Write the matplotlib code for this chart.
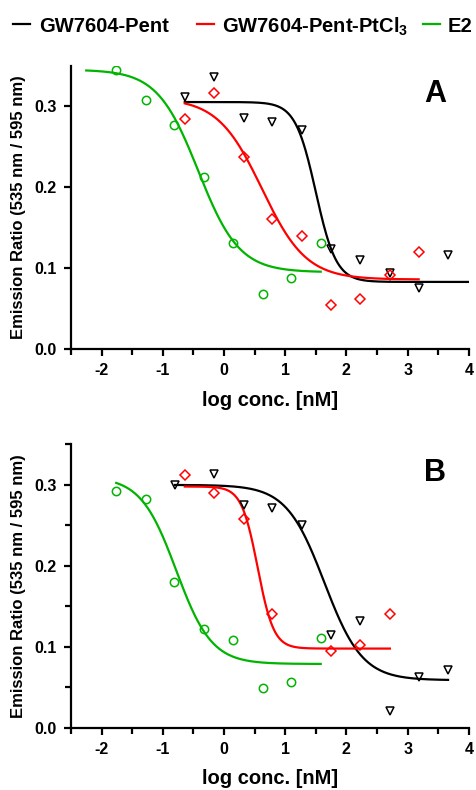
import matplotlib
matplotlib.use("Agg")
import matplotlib.pyplot as plt
import matplotlib.ticker as mticker
from matplotlib.lines import Line2D
import numpy as np

plt.rcParams.update({
    "font.family": "Liberation Sans",
    "font.weight": "bold",
    "mathtext.fontset": "custom",
    "mathtext.rm": "Liberation Sans:bold",
    "mathtext.it": "Liberation Sans:bold",
    "mathtext.bf": "Liberation Sans:bold",
})

GREEN = "#00B400"
RED = "#FF0000"
BLACK = "#000000"

labels = ["GW7604-Pent", "GW7604-Pent-PtCl$_3$", "E2"]

# Panel A measured points (log conc. [nM], emission ratio)
a_pent_x = [-0.64, -0.16, 0.32, 0.79, 1.27, 1.75, 2.23, 2.71, 3.18, 3.66]
a_pent_y = [0.311, 0.336, 0.285, 0.280, 0.270, 0.124, 0.110, 0.094, 0.075, 0.116]
a_pt_x = [-0.64, -0.16, 0.32, 0.79, 1.27, 1.75, 2.23, 2.71, 3.18]
a_pt_y = [0.284, 0.316, 0.237, 0.161, 0.140, 0.054, 0.062, 0.092, 0.120]
a_e2_x = [-1.77, -1.28, -0.81, -0.33, 0.15, 0.63, 1.10, 1.58]
a_e2_y = [0.345, 0.307, 0.277, 0.212, 0.131, 0.068, 0.088, 0.131]

# Panel B measured points
b_pent_x = [-0.80, -0.16, 0.32, 0.79, 1.27, 1.75, 2.23, 2.71, 3.18, 3.66]
b_pent_y = [0.300, 0.313, 0.275, 0.272, 0.250, 0.115, 0.132, 0.021, 0.063, 0.072]
b_pt_x = [-0.64, -0.16, 0.32, 0.79, 1.75, 2.23, 2.71]
b_pt_y = [0.312, 0.290, 0.258, 0.141, 0.095, 0.102, 0.141]
b_e2_x = [-1.76, -1.28, -0.81, -0.33, 0.15, 0.63, 1.10, 1.58]
b_e2_y = [0.293, 0.282, 0.180, 0.122, 0.109, 0.049, 0.057, 0.111]

# fitted 4PL curves: top, bottom, logEC50, hill, x start, x end
a_pent_fit = [0.305, 0.083, 1.50, 2.6, -0.64, 4.0]
a_pt_fit = [0.310, 0.086, 0.62, 1.2, -0.64, 3.18]
a_e2_fit = [0.345, 0.095, -0.42, 1.3, -2.25, 1.58]
b_pent_fit = [0.300, 0.059, 1.64, 1.4, -0.80, 3.66]
b_pt_fit = [0.298, 0.098, 0.55, 3.3, -0.64, 2.71]
b_e2_fit = [0.310, 0.079, -0.78, 1.5, -1.76, 1.58]


def four_pl(fit):
    top, bottom, ec50, hill, x0, x1 = fit
    x = np.linspace(x0, x1, 300)
    return x, bottom + (top - bottom) / (1 + 10 ** ((x - ec50) * hill))


def draw_panel(ax, series, letter, minor_y):
    for (px, py, fit), color, marker in zip(series, [BLACK, RED, GREEN], ["v", "D", "o"]):
        cx, cy = four_pl(fit)
        ax.plot(cx, cy, color=color, linewidth=1.6, zorder=2)
        ms = 5.0 if marker == "D" else 6.0
        ax.plot(px, py, linestyle="none", marker=marker, markersize=ms,
                markerfacecolor="none", markeredgecolor=color, markeredgewidth=1.1, zorder=3)

    ax.set_xlim(-2.5, 4)
    ax.set_ylim(0, 0.35)
    ax.xaxis.set_major_locator(mticker.MultipleLocator(1))
    ax.xaxis.set_minor_locator(mticker.MultipleLocator(0.5))
    ax.yaxis.set_major_locator(mticker.MultipleLocator(0.1))
    if minor_y:
        ax.yaxis.set_minor_locator(mticker.MultipleLocator(0.05))
    else:
        ax.yaxis.set_minor_locator(mticker.NullLocator())
    ax.yaxis.set_major_formatter(mticker.FormatStrFormatter("%.1f"))
    ax.xaxis.set_major_formatter(mticker.FuncFormatter(lambda v, p: f"{v:.0f}"))

    for s in ["top", "right"]:
        ax.spines[s].set_visible(False)
    for s in ["left", "bottom"]:
        ax.spines[s].set_linewidth(1.6)
    ax.tick_params(which="major", length=5, width=1.6, labelsize=11.5, pad=5)
    ax.tick_params(which="minor", length=4, width=1.6)

    ax.set_xlabel("log conc. [nM]", fontsize=14.5, fontweight="bold", labelpad=9)
    ax.set_ylabel("Emission Ratio (535 nm / 595 nm)", fontsize=12, fontweight="bold", labelpad=6)
    ax.text(0.915, 0.90, letter, transform=ax.transAxes, fontsize=22,
            fontweight="bold", ha="center", va="center")


fig = plt.figure(figsize=(4.76, 7.90), dpi=100)
ax_a = fig.add_axes([0.149, 0.558, 0.836, 0.359])
ax_b = fig.add_axes([0.149, 0.0785, 0.836, 0.359])

draw_panel(ax_a, [(a_pent_x, a_pent_y, a_pent_fit),
                  (a_pt_x, a_pt_y, a_pt_fit),
                  (a_e2_x, a_e2_y, a_e2_fit)], "A", False)
draw_panel(ax_b, [(b_pent_x, b_pent_y, b_pent_fit),
                  (b_pt_x, b_pt_y, b_pt_fit),
                  (b_e2_x, b_e2_y, b_e2_fit)], "B", True)

# legend row along the top (pixel positions of handle start / text start)
W, H = 476, 790
leg_y = 1 - 24 / H
for (h0, t0), color, lab in zip([(13, 39), (197, 222), (423, 448)], [BLACK, RED, GREEN], labels):
    fig.add_artist(Line2D([h0 / W, (h0 + 17) / W], [leg_y, leg_y], color=color,
                          linewidth=1.6, transform=fig.transFigure))
    fig.text(t0 / W, leg_y, lab, fontsize=14.5, fontweight="bold", ha="left", va="center_baseline")

fig.savefig("out.png", dpi=100)
